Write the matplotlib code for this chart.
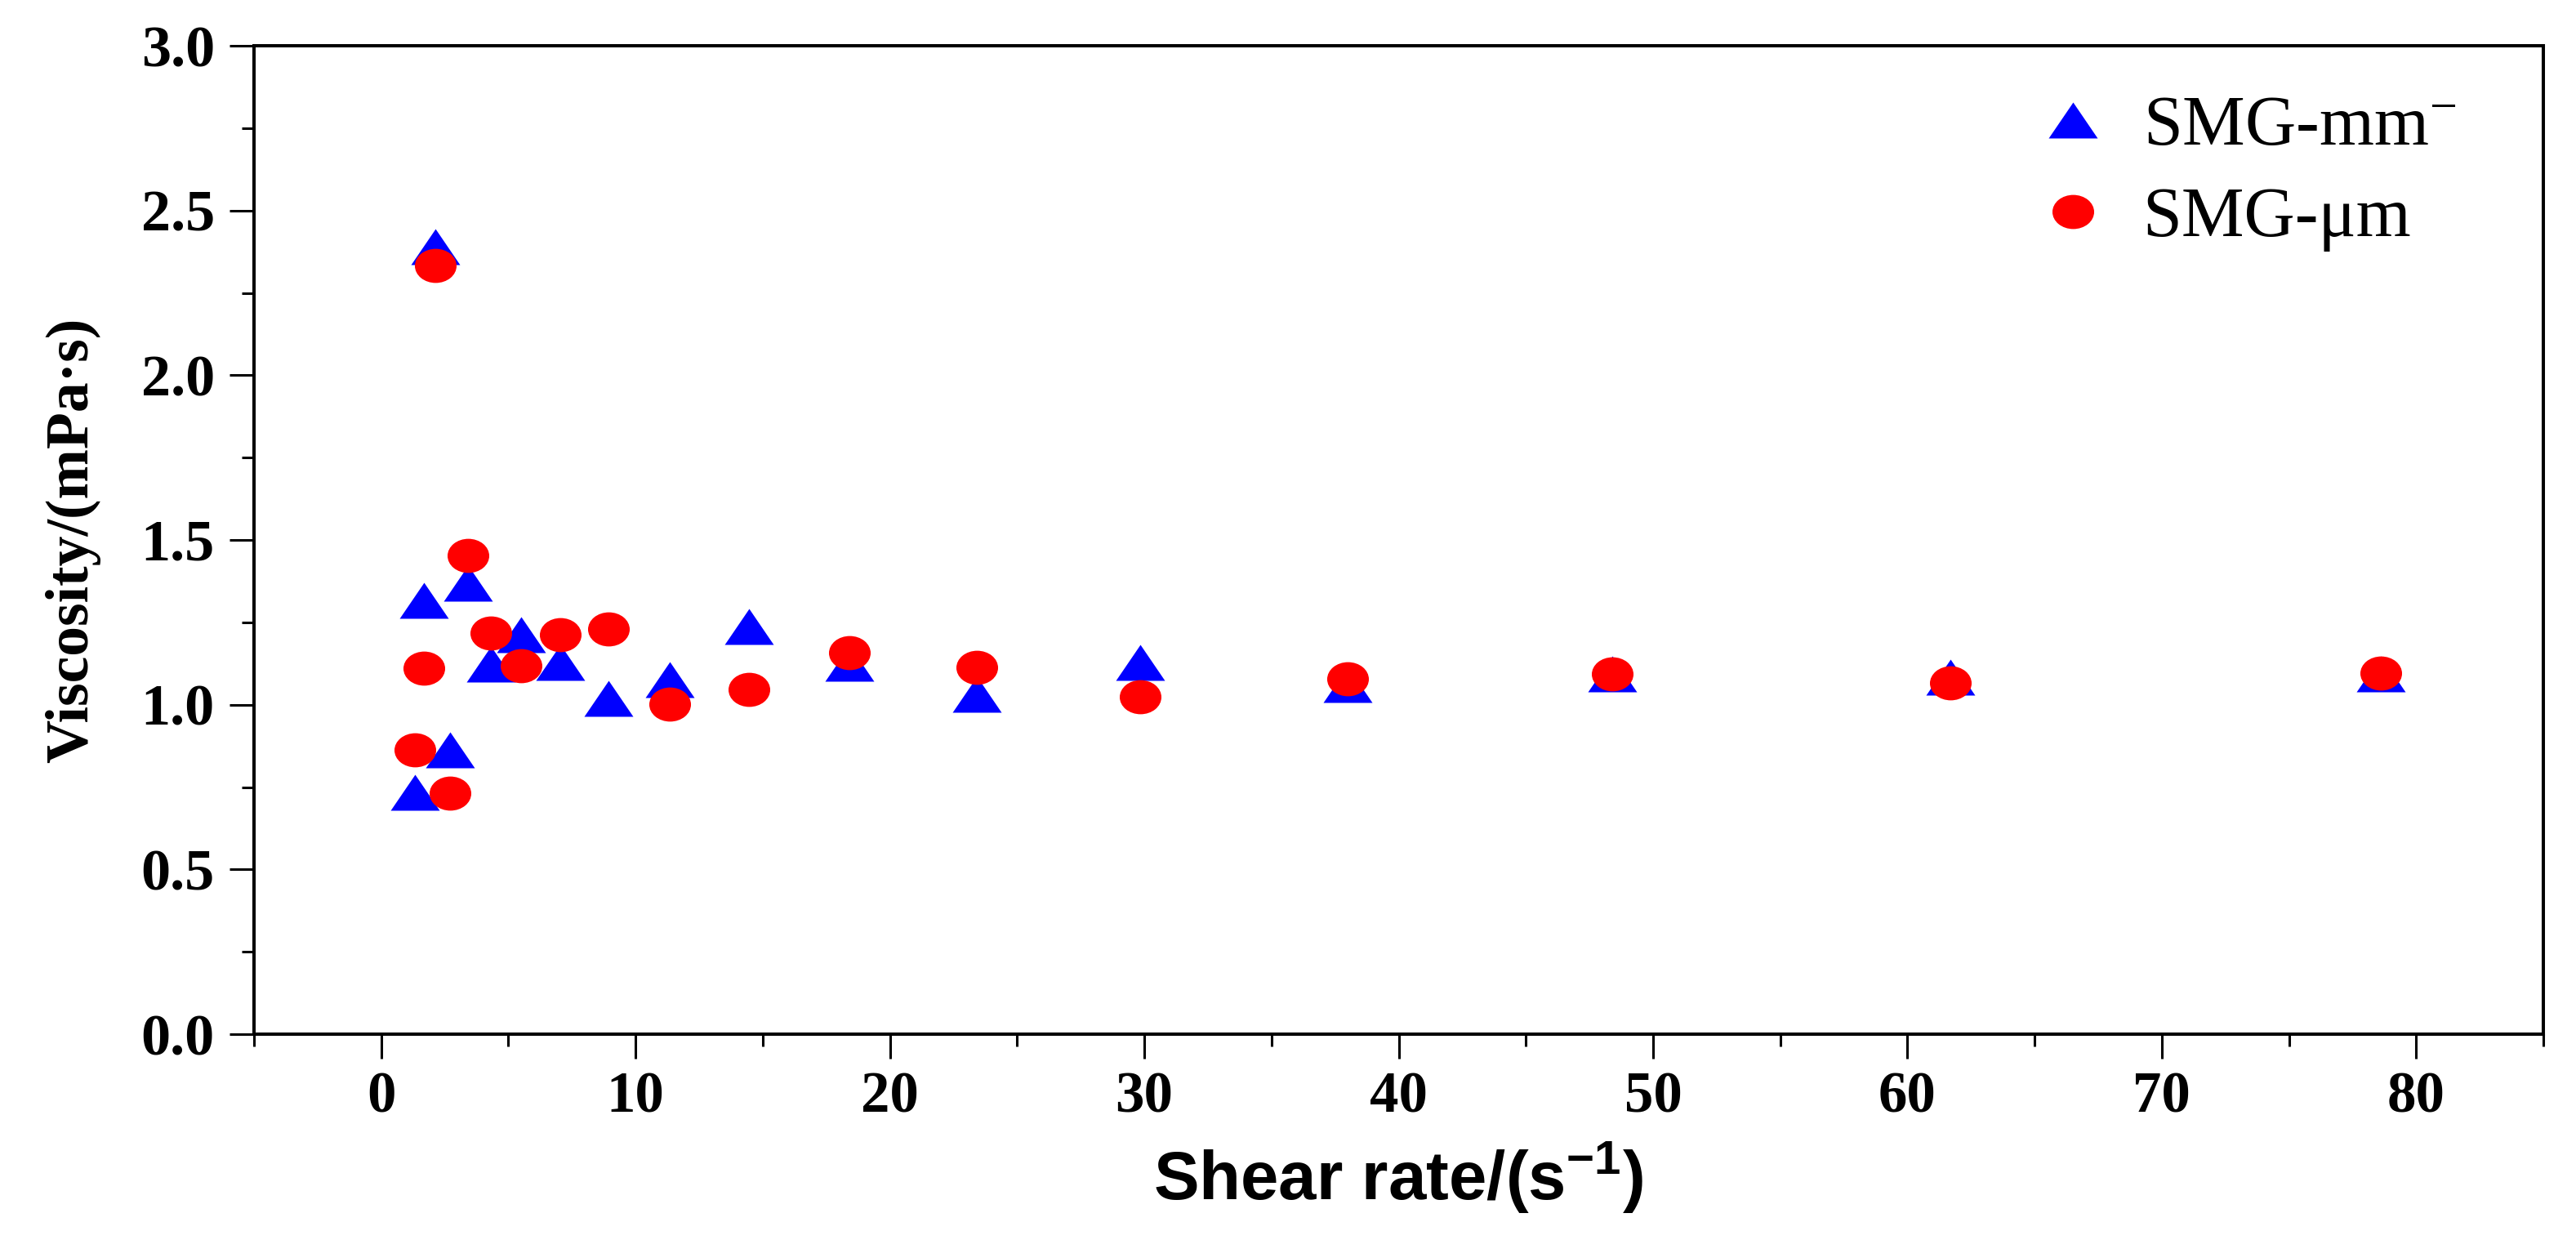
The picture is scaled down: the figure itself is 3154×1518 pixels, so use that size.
import matplotlib
matplotlib.use("Agg")
import matplotlib.pyplot as plt
from matplotlib.markers import MarkerStyle
from matplotlib.transforms import Affine2D
from matplotlib.ticker import MultipleLocator, FormatStrFormatter

# ---- data ----
shear_rate = [1.33, 1.67, 2.12, 2.69, 3.41, 4.31, 5.50, 7.03, 8.92, 11.33,
              14.46, 18.4, 23.4, 29.85, 38.0, 48.4, 61.7, 78.6]
visc_mm = [0.734, 1.317, 2.39, 0.864, 1.369, 1.124, 1.212, 1.128, 1.019, 1.077,
           1.237, 1.126, 1.031, 1.127, 1.061, 1.094, 1.084, 1.094]
visc_um = [0.864, 1.111, 2.333, 0.731, 1.452, 1.217, 1.118, 1.212, 1.230, 1.002,
           1.046, 1.158, 1.112, 1.025, 1.079, 1.094, 1.067, 1.096]
series_labels = [r"SMG-mm$^{-}$", "SMG-\u03bcm"]
xlabel = r"Shear rate/(s$^{-1}$)"
ylabel = "Viscosity/(mPa\u00b7s)"

plt.rcParams['mathtext.default'] = 'regular'

W, H = 3154, 1518
fig = plt.figure(figsize=(W / 100, H / 100), dpi=100)
L, R, B, T = 311, 3114, 1266, 56
ax = fig.add_axes([L / W, 1 - B / H, (R - L) / W, (B - T) / H])

tri = MarkerStyle('^', transform=Affine2D().scale(1.17, 0.85))
circ = MarkerStyle('o', transform=Affine2D().scale(1.1, 0.9))

ax.plot(shear_rate, visc_mm, linestyle='none', marker=tri, markersize=37.4,
        color='#0000FF', markeredgecolor='none', label=series_labels[0])
ax.plot(shear_rate, visc_um, linestyle='none', marker=circ, markersize=33.4,
        color='#FF0000', markeredgecolor='none', label=series_labels[1])

ax.set_xlim(-5, 85)
ax.set_ylim(0, 3.0)
ax.xaxis.set_major_locator(MultipleLocator(10))
ax.xaxis.set_minor_locator(MultipleLocator(5))
ax.yaxis.set_major_locator(MultipleLocator(0.5))
ax.yaxis.set_minor_locator(MultipleLocator(0.25))
ax.yaxis.set_major_formatter(FormatStrFormatter('%.1f'))

for s in ax.spines.values():
    s.set_linewidth(2.9)
    s.set_color('black')

ax.tick_params(axis='both', which='major', direction='out', length=21.6, width=2.2)
ax.tick_params(axis='both', which='minor', direction='out', length=10.8, width=2.2)
ax.tick_params(axis='x', which='major', pad=11)
ax.tick_params(axis='y', which='major', pad=13)

for lab in ax.get_xticklabels():
    lab.set_fontfamily('Liberation Serif')
    lab.set_fontweight('bold')
    lab.set_fontsize(51)
for lab in ax.get_yticklabels():
    lab.set_fontfamily('Liberation Serif')
    lab.set_fontweight('bold')
    lab.set_fontsize(52)

ax.set_xlabel(xlabel, fontsize=60, fontweight='bold', family='Liberation Sans', labelpad=14)
ax.set_ylabel(ylabel, fontsize=53, fontweight='bold', family='Liberation Serif', labelpad=36)

leg = ax.legend(loc='upper left', bbox_to_anchor=(0.779, 0.95), frameon=False,
                prop={'family': ['Liberation Serif', 'DejaVu Serif'], 'size': 62},
                handlelength=1.0, handletextpad=0.5, labelspacing=0.38,
                borderpad=0, borderaxespad=0, numpoints=1)

fig.savefig('out.png', dpi=100, facecolor='white')
